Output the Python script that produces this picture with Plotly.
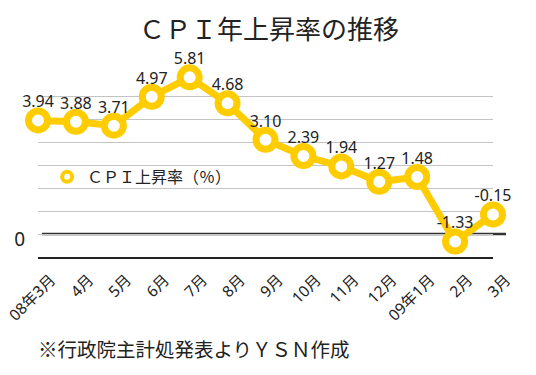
import plotly.graph_objects as go

# ---- data ----
months = ["08年3月", "4月", "5月", "6月", "7月", "8月", "9月", "10月",
          "11月", "12月", "09年1月", "2月", "3月"]
# position of each point measured against the chart's own y axis
# (the source chart draws the series one grid unit above its "0" line)
plotted_values = [4.94, 4.88, 4.71, 5.97, 6.81, 5.68, 4.10, 3.39,
                  2.94, 2.27, 2.48, -0.33, 0.85]
# data labels typed on the source chart (CPI year-on-year rate, %)
cpi_labels = ["3.94", "3.88", "3.71", "4.97", "5.81", "4.68", "3.10", "2.39",
              "1.94", "1.27", "1.48", "-1.33", "-0.15"]
y_tick_values = [-1, 0, 1, 2, 3, 4, 5, 6, 7]
y_tick_labels = ["", "0", "", "", "", "", "", "", ""]

title_text = "ＣＰＩ年上昇率の推移"
series_name = "ＣＰＩ上昇率（％）"
footnote = "※行政院主計処発表よりＹＳＮ作成"

YELLOW = "#FFCC00"
JP = "Noto Sans CJK JP"
NUM = "Noto Sans, Noto Sans CJK JP"

xs = list(range(len(months)))
fig = go.Figure()
fig.add_trace(go.Scatter(
    x=xs, y=plotted_values,
    mode="lines+markers",
    line=dict(color=YELLOW, width=7),
    marker=dict(symbol="circle", size=19, color="white",
                line=dict(color=YELLOW, width=7)),
    cliponaxis=False, showlegend=False,
))
# data labels (placed just above each point)
fig.add_trace(go.Scatter(
    x=xs, y=plotted_values,
    mode="markers+text", text=cpi_labels, textposition="top center",
    textfont=dict(family=NUM, size=16, color="#222222"),
    marker=dict(size=13, opacity=0),
    cliponaxis=False, showlegend=False, hoverinfo="skip",
))
# legend-only entry (the legend shows just a small ring)
fig.add_trace(go.Scatter(
    x=[None], y=[None], mode="markers", name=series_name,
    marker=dict(symbol="circle", size=10, color="white",
                line=dict(color=YELLOW, width=4)),
))

L, R, T, B = 38, 43, 73, 118
fig.update_layout(
    width=536, height=375,
    margin=dict(l=L, r=R, t=T, b=B, pad=0, autoexpand=False),
    paper_bgcolor="white", plot_bgcolor="white",
    title=dict(text=title_text, x=269 / 536, xanchor="center",
               y=1 - 30 / 375, yanchor="middle",
               font=dict(family=JP, size=26, color="#222222")),
    legend=dict(x=0.02, y=0.435, xanchor="left", yanchor="middle",
                bgcolor="rgba(0,0,0,0)",
                font=dict(family=JP, size=16, color="#222222")),
    xaxis=dict(
        range=[0, len(months) - 1], automargin=False,
        tickmode="array", tickvals=xs, ticktext=months,
        tickangle=-45, ticks="", showgrid=False, zeroline=False,
        showline=True, linecolor="#222222", linewidth=1.5,
        tickfont=dict(family=NUM, size=15.5, color="#222222"),
        ticklabelstandoff=6, ticklabelshift=13, ticklabeloverflow="allow",
    ),
    yaxis=dict(
        range=[-1, 7], automargin=False,
        tickmode="array", tickvals=y_tick_values, ticktext=y_tick_labels,
        ticks="", showgrid=True, gridcolor="#C4C4C4", gridwidth=1,
        zeroline=False, showline=False,
        tickfont=dict(family=NUM, size=19, color="#222222"),
        ticklabelstandoff=12, ticklabelshift=5, ticklabeloverflow="allow",
    ),
    annotations=[dict(text=footnote, xref="paper", yref="paper",
                      x=-0.005, y=-(348 - 257) / 184, xanchor="left", yanchor="middle",
                      showarrow=False,
                      font=dict(family=JP, size=19.5, color="#222222"))],
    shapes=[dict(type="line", xref="paper", yref="y",
                 x0=(42 - L) / 455, x1=(506 - L) / 455, y0=0, y1=0,
                 line=dict(color="#333333", width=2.5), layer="below")],
)

fig.write_html(
    "out.html",
    config={"displayModeBar": False},
    post_script="document.body.style.margin='0';document.body.style.overflow='hidden';",
)
